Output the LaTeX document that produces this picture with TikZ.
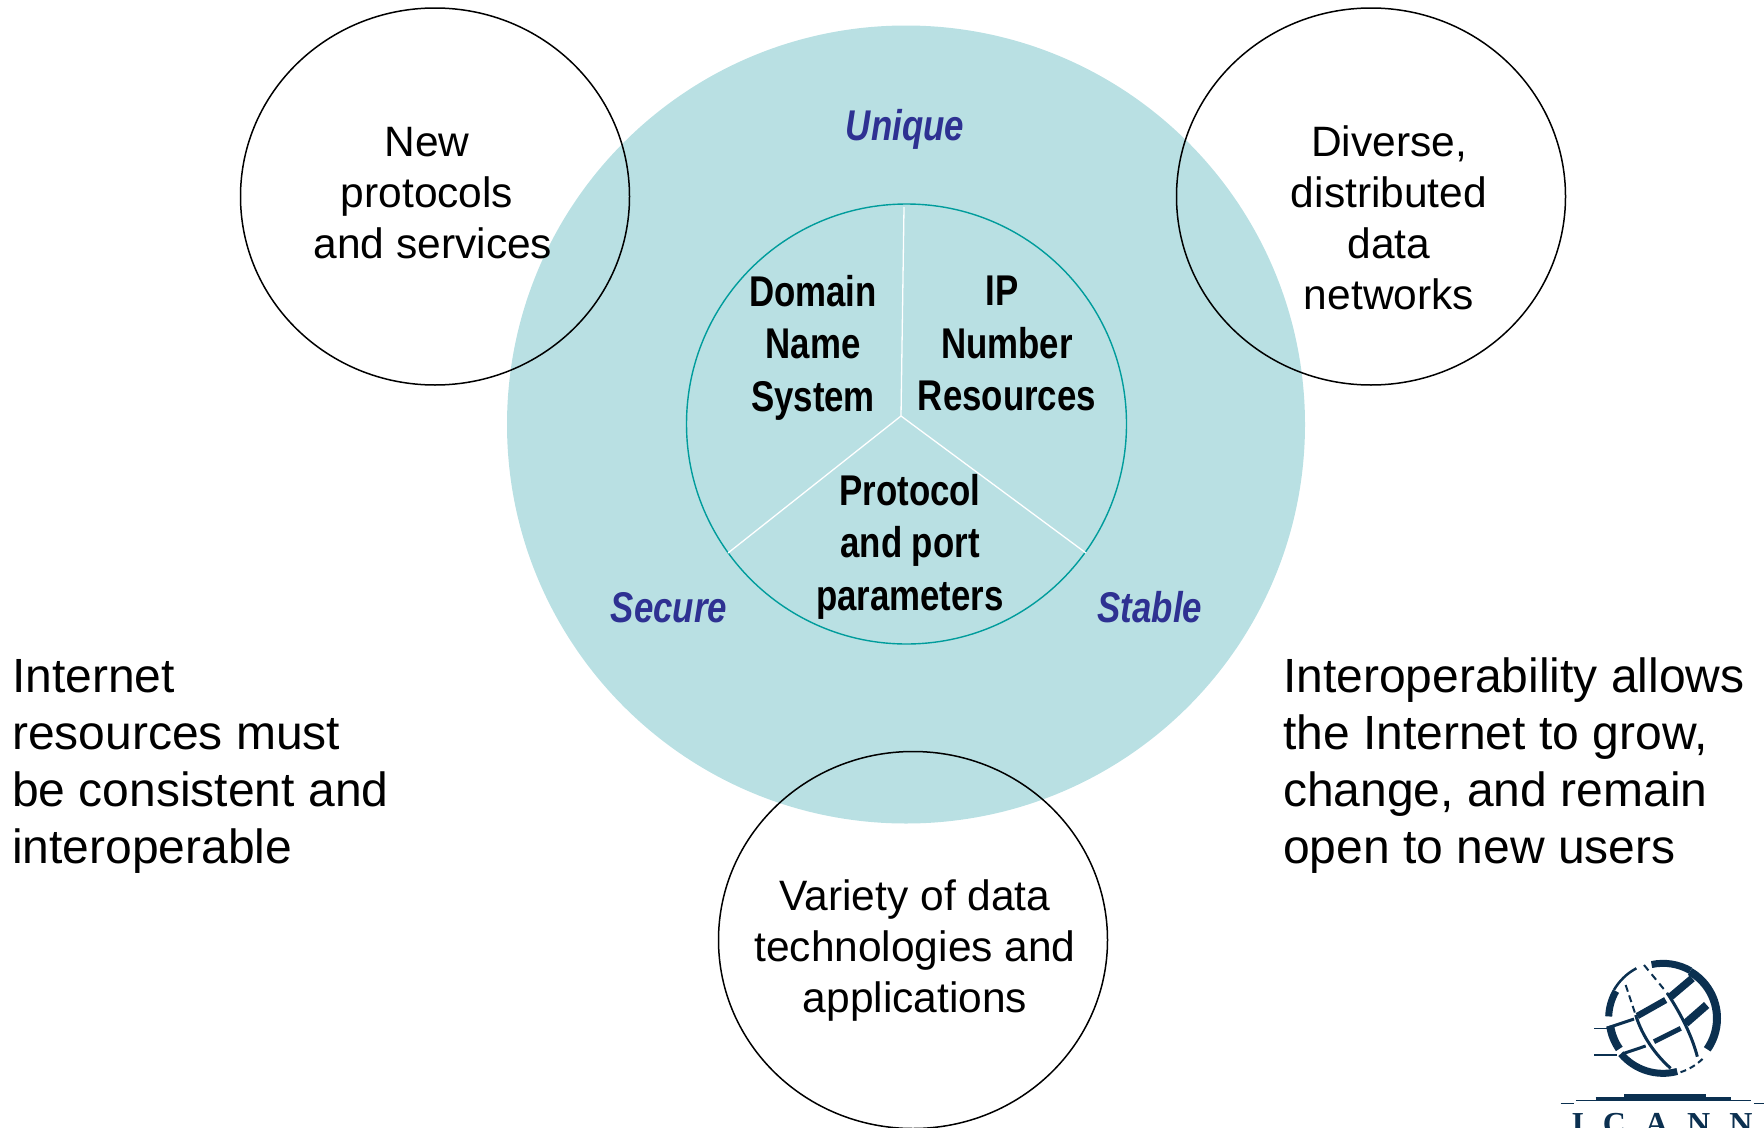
\documentclass[tikz,border=0pt]{standalone}
\usepackage{fontspec}
\setmainfont{Liberation Sans}
\newfontfamily\condbold[FakeStretch=0.81]{Liberation Sans Bold}
\newfontfamily\condital[FakeStretch=0.81]{Liberation Sans Bold Italic}
\newfontfamily\logofont{Liberation Serif}
\definecolor{paleteal}{HTML}{B9E0E3}
\definecolor{ringteal}{HTML}{009C9C}
\definecolor{indigo}{HTML}{2E3192}
\definecolor{navy}{HTML}{0B3050}
\tikzset{
  x=1pt,y=-1pt,
  satellite/.style={ellipse,draw=black,line width=1.5pt,minimum width=389pt,minimum height=377pt,inner sep=0pt,align=center},
  plain/.style={align=center,inner sep=0pt,font=\fontsize{42.5}{51}\selectfont},
  side/.style={align=left,inner sep=0pt,anchor=north west,font=\fontsize{48}{57}\selectfont},
  core/.style={align=center,inner sep=0pt,font=\condbold\fontsize{43}{52.5}\selectfont},
  quality/.style={inner sep=0pt,text=indigo,font=\condital\fontsize{43}{50}\selectfont},
  spoke/.style={draw=white,line width=1.3pt},
  logostroke/.style={draw=navy,line cap=butt}
}
\usetikzlibrary{shapes.geometric}
\begin{document}
\begin{tikzpicture}
\useasboundingbox (0,0) rectangle (1764,1127);
\clip (0,0) rectangle (1764,1127);
\node[circle,fill=paleteal,minimum size=798pt,inner sep=0pt] (outer) at (906,424.5) {};
\node[circle,draw=ringteal,line width=1.4pt,minimum size=440pt,inner sep=0pt] (ring) at (906.5,424) {};
\coordinate (hub) at (901,416);
\coordinate (topend) at (904,207);
\coordinate (leftend) at (728,553);
\coordinate (rightend) at (1086,553);
\draw[spoke] (hub) -- (topend);
\draw[spoke] (hub) -- (leftend);
\draw[spoke] (hub) -- (rightend);
\node[satellite] (tl) at (435,196.5) {};
\node[satellite] (tr) at (1371,196.5) {};
\node[satellite] (bt) at (913,940) {};
\node[plain] (tltext) at (433,193) {New\rule{12pt}{0pt}\\protocols\rule{12pt}{0pt}\\and services};
\node[plain] (trtext) at (1389,218) {Diverse,\\distributed\\data\\networks};
\node[plain] (bttext) at (915,950.5) {Variety of data\\technologies and\\applications};
\node[core] (dns) at (813,347.5) {Domain\\Name\\System};
\node[core] (ip) at (1007,343.5) {IP\rule{10pt}{0pt}\\Number\\Resources};
\node[core] (proto) at (910,546.5) {Protocol\\and port\\parameters};
\node[quality] (unique) at (905,129) {Unique};
\node[quality] (secure) at (669,607.5) {Secure};
\node[quality] (stable) at (1150,607) {Stable};
\node[side] (lefttext) at (12,659) {Internet\\resources must\\be consistent and\\interoperable};
\node[side] (righttext) at (1283,658) {Interoperability allows\\the Internet to grow,\\change, and remain\\open to new users};
% logo, in the coordinates of a 3x crop whose corner is at (1524,940)
\begin{scope}[shift={(1524pt,-940pt)},x=0.3333pt,y=-0.3333pt,logostroke]
  \coordinate (g) at (417,235);
  \draw[line width=7pt] (g) ++(-102:165) arc[start angle=-102,end angle=-60,radius=165];
  \draw[line width=8pt] (g) ++(-60:162) arc[start angle=-60,end angle=35,radius=162];
  \draw[line width=2.5pt] (g) ++(-118:170) arc[start angle=-118,end angle=-150,radius=170];
  \draw[line width=7pt] (g) ++(-150:163) arc[start angle=-150,end angle=-178,radius=163];
  \draw[line width=8pt] (g) ++(172:160) arc[start angle=172,end angle=145,radius=160];
  \draw[line width=7pt] (g) ++(140:165) arc[start angle=140,end angle=75,radius=165];
  \draw[line width=2pt,dash pattern=on 6pt off 4pt] (g) ++(72:170) arc[start angle=72,end angle=45,radius=170];
  \draw[line width=2pt,dash pattern=on 7pt off 5pt] (360,75) -- (430,160);
  \draw[line width=3pt] (430,160) .. controls (470,220) and (505,290) .. (520,350);
  \draw[line width=2pt,dash pattern=on 7pt off 4pt] (305,135) -- (335,225);
  \draw[line width=3pt] (335,225) .. controls (355,290) and (395,345) .. (440,385);
  \draw[line width=6.5pt] (340,228) -- (425,180);
  \draw[line width=7.5pt] (440,170) -- (505,115);
  \draw[line width=5pt] (390,305) -- (470,265);
  \draw[line width=8pt] (485,250) -- (548,195);
  \draw[line width=1.5pt] (210,265) -- (255,265);
  \draw[line width=3pt] (255,262) -- (330,237);
  \draw[line width=1.5pt] (210,345) -- (280,345);
  \draw[line width=3pt] (300,340) -- (365,318);
  \draw[line width=1.5pt] (110,490) -- (150,490);
  \draw[line width=1.5pt] (690,490) -- (720,490);
  \draw[line width=1.5pt] (155,481) -- (680,481);
  \draw[line width=3.5pt] (215,477) -- (620,477);
  \draw[line width=4pt] (300,469) -- (545,469);
\end{scope}
\node[inner sep=0pt,anchor=base,text=navy,font=\logofont\bfseries\fontsize{32}{32}\selectfont] (icann) at (1662,1134) {I\hspace{19pt}C\hspace{19pt}A\hspace{19pt}N\hspace{19pt}N};
\end{tikzpicture}
\end{document}
